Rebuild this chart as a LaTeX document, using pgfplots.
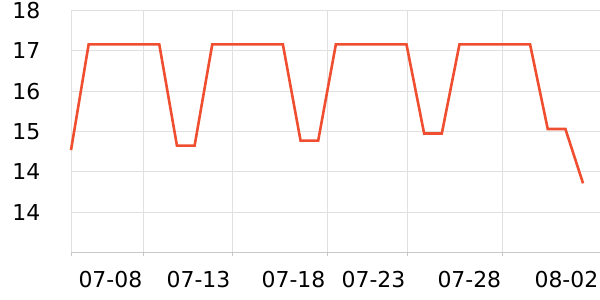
\documentclass[border=0pt]{standalone}
\usepackage{fontspec}
\setmainfont{DejaVu Sans}
\usepackage{pgfplots}
\pgfplotsset{compat=1.18}
\definecolor{linec}{RGB}{240,78,48}
\definecolor{gridc}{RGB}{224,224,224}
\definecolor{axisc}{RGB}{200,200,200}
\begin{document}
\begin{tikzpicture}
\begin{axis}[
  at={(71bp,47.7bp)}, anchor=south west,
  scale only axis,
  width=529bp, height=241.6bp,
  xmin=0, xmax=29.96,
  ymin=12.8, ymax=17.6,
  axis x line=bottom, axis y line=left,
  axis line style={-, axisc, line width=1bp},
  y axis line style={gridc},
  xtick={0,4.13,9.12,14.5,19.03,24.46,29.96},
  xticklabels={,07-08,07-13,07-18,07-23,07-28,08-02},
  ytick={13.6,14.4,15.2,16.0,16.8,17.6},
  yticklabels={14,14,15,16,17,18},
  xmajorgrids, ymajorgrids,
  grid style={gridc, line width=1bp},
  x tick style={axisc, line width=1bp},
  major tick length=4bp,
  xtick align=outside,
  ytick style={draw=none},
  xticklabel style={font=\fontsize{22}{26}\selectfont, anchor=north east, inner sep=0pt, yshift=-14.4bp, xshift=-1.5bp},
  yticklabel style={font=\fontsize{22}{26}\selectfont, anchor=east, inner sep=0pt, xshift=-28.5bp},
  clip=false,
]
\addplot[linec, line width=2.6bp, mark=none] coordinates {
(0,14.83) (1,16.93) (2,16.93) (3,16.93) (4,16.93) (5,16.93)
(6,14.92) (7,14.92)
(8,16.93) (9,16.93) (10,16.93) (11,16.93) (12,16.93)
(13,15.02) (14,15.02)
(15,16.93) (16,16.93) (17,16.93) (18,16.93) (19,16.93)
(20,15.16) (21,15.16)
(22,16.93) (23,16.93) (24,16.93) (25,16.93) (26,16.93)
(27,15.25) (28,15.25)
(29,14.17)
};
\end{axis}
\pgfresetboundingbox
\path[use as bounding box] (0,0) rectangle (600bp,300bp);
\end{tikzpicture}
\end{document}
